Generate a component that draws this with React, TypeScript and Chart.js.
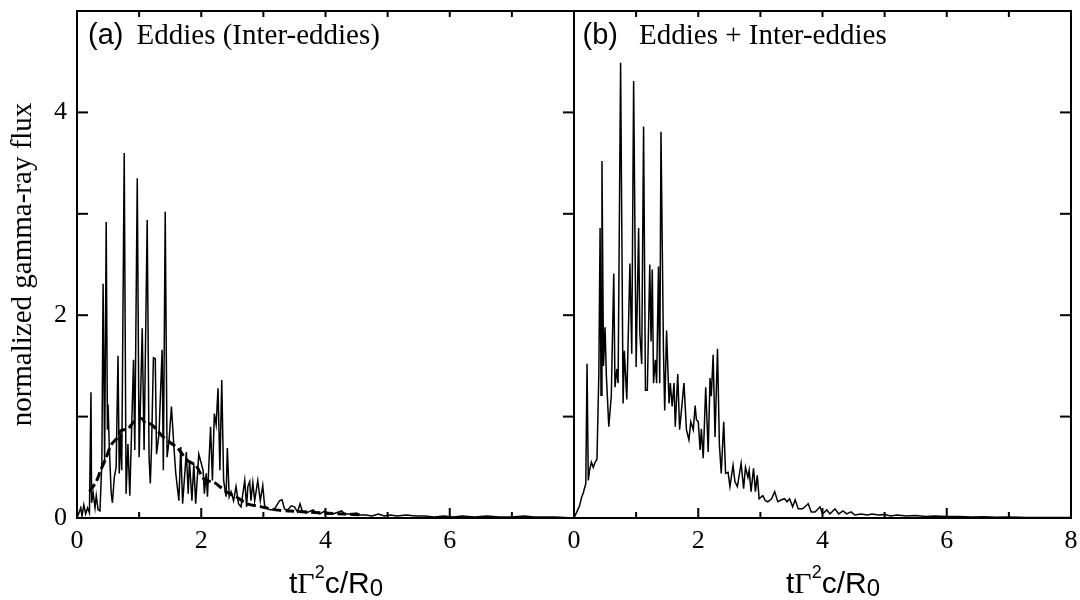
import React, { useEffect, useRef } from "react";
import { Chart, registerables } from "chart.js";

Chart.register(...registerables);

// ---------- data ----------
// (a) eddies – solid curve
const leftX = [
  0.0, 0.03, 0.06, 0.08, 0.11, 0.14, 0.17, 0.2, 0.225, 0.235, 0.26, 0.29, 0.31, 0.34, 0.37, 0.4,
  0.42, 0.445, 0.47, 0.49, 0.5, 0.52, 0.55, 0.57, 0.6, 0.63, 0.66, 0.68, 0.7, 0.72, 0.76, 0.79,
  0.82, 0.85, 0.91, 0.93, 0.97, 1.0, 1.05, 1.08, 1.13, 1.16, 1.18, 1.2, 1.23, 1.26, 1.28, 1.32,
  1.37, 1.39, 1.42, 1.45, 1.48, 1.52, 1.56, 1.59, 1.64, 1.67, 1.7, 1.76, 1.79, 1.81, 1.85, 1.88,
  1.91, 1.96, 2.03, 2.05, 2.08, 2.1, 2.15, 2.18, 2.21, 2.24, 2.27, 2.3, 2.33, 2.36, 2.4, 2.42,
  2.45, 2.48, 2.52, 2.56, 2.6, 2.64, 2.7, 2.73, 2.75, 2.78, 2.8, 2.83, 2.86, 2.91, 2.95, 2.99,
  3.02, 3.07, 3.12, 3.18, 3.26, 3.3, 3.34, 3.39, 3.45, 3.5, 3.55, 3.59, 3.63, 3.69, 3.8, 3.85,
  3.91, 3.99, 4.04, 4.12, 4.26, 4.31, 4.39, 4.5, 4.55, 4.65, 4.75, 4.85, 4.95, 5.05, 5.15, 5.3,
  5.45, 5.6, 5.75, 5.9, 6.05, 6.2, 6.4, 6.6, 6.8, 7.0, 7.2, 7.35, 7.5, 7.7, 8.0,
];
const leftY = [
  0.0, 0.05, 0.1, 0.02, 0.13, 0.04, 0.1, 0.05, 1.24, 0.15, 0.25, 0.1, 0.22, 0.08, 0.07, 0.55,
  2.31, 0.55, 2.92, 0.87, 1.12, 0.7, 0.25, 0.15, 0.4, 0.5, 1.6, 0.44, 0.83, 0.47, 3.6, 0.24,
  0.73, 0.22, 1.56, 0.67, 3.35, 0.6, 1.87, 0.67, 2.94, 0.6, 0.34, 0.7, 1.58, 1.57, 0.63, 0.83,
  1.66, 0.47, 3.02, 0.6, 0.75, 1.1, 0.7, 0.44, 0.17, 0.7, 0.14, 0.65, 0.24, 0.57, 0.17, 0.54,
  0.14, 0.63, 0.47, 0.24, 0.44, 0.21, 0.9, 0.37, 1.03, 0.92, 1.28, 0.47, 1.36, 0.37, 0.21, 0.69,
  0.21, 0.26, 0.17, 0.31, 0.14, 0.11, 0.37, 0.11, 0.31, 0.36, 0.17, 0.35, 0.17, 0.37, 0.17, 0.32,
  0.12, 0.09, 0.08, 0.09, 0.17, 0.18, 0.09, 0.08, 0.12, 0.11, 0.06, 0.14, 0.06, 0.05, 0.08, 0.05,
  0.04, 0.07, 0.04, 0.04, 0.07, 0.04, 0.04, 0.05, 0.03, 0.03, 0.02, 0.04, 0.02, 0.03, 0.02, 0.03,
  0.02, 0.02, 0.01, 0.02, 0.01, 0.02, 0.01, 0.02, 0.01, 0.01, 0.02, 0.01, 0.01, 0.01, 0.0,
];
// (a) inter-eddies – dashed curve
const dashX = [
  0.2, 0.31, 0.38, 0.46, 0.55, 0.66, 0.7, 0.82, 0.92, 1.05, 1.1, 1.17, 1.27, 1.37, 1.51, 1.62,
  1.77, 1.91, 2.05, 2.21, 2.4, 2.56, 2.74, 2.97, 3.2, 3.43, 3.7, 3.95, 4.3, 4.6,
];
const dashY = [
  0.26, 0.36, 0.47, 0.58, 0.72, 0.8, 0.86, 0.88, 0.95, 0.98, 0.93, 0.93, 0.88, 0.81, 0.74, 0.69,
  0.57, 0.52, 0.38, 0.35, 0.26, 0.21, 0.14, 0.11, 0.08, 0.07, 0.06, 0.05, 0.04, 0.03,
];
// (b) eddies + inter-eddies
const rightX = [
  0.0, 0.06, 0.09, 0.12, 0.15, 0.19, 0.21, 0.23, 0.25, 0.28, 0.31, 0.34, 0.37, 0.4, 0.42, 0.435,
  0.45, 0.475, 0.5, 0.52, 0.56, 0.6, 0.64, 0.66, 0.69, 0.71, 0.75, 0.79, 0.81, 0.85, 0.9, 0.93,
  0.96, 1.0, 1.04, 1.06, 1.09, 1.12, 1.15, 1.18, 1.22, 1.24, 1.26, 1.28, 1.31, 1.33, 1.36, 1.38,
  1.4, 1.44, 1.46, 1.49, 1.53, 1.55, 1.58, 1.61, 1.63, 1.67, 1.7, 1.74, 1.77, 1.81, 1.85, 1.88,
  1.92, 1.95, 1.97, 2.0, 2.03, 2.05, 2.08, 2.12, 2.16, 2.19, 2.21, 2.24, 2.27, 2.31, 2.34, 2.37,
  2.41, 2.44, 2.48, 2.51, 2.56, 2.59, 2.63, 2.69, 2.73, 2.76, 2.8, 2.82, 2.85, 2.89, 2.92, 2.95,
  2.98, 3.02, 3.04, 3.08, 3.12, 3.18, 3.23, 3.28, 3.34, 3.39, 3.43, 3.47, 3.52, 3.56, 3.61, 3.68,
  3.77, 3.82, 3.88, 3.96, 4.0, 4.07, 4.12, 4.2, 4.26, 4.33, 4.39, 4.46, 4.52, 4.62, 4.72, 4.8,
  4.9, 5.0, 5.1, 5.2, 5.35, 5.5, 5.65, 5.8, 6.0, 6.2, 6.4, 6.6, 6.8, 7.0, 7.3, 7.6, 8.0,
];
const rightY = [
  0.0, 0.08, 0.12, 0.2, 0.25, 0.34, 1.52, 0.37, 0.47, 0.55, 0.5, 0.55, 0.58, 1.43, 2.86, 1.21,
  3.52, 1.5, 1.88, 1.42, 0.9, 1.2, 2.41, 1.29, 1.47, 1.33, 4.49, 1.13, 1.65, 1.17, 2.51, 1.62,
  4.31, 1.49, 2.86, 1.82, 1.52, 3.86, 1.26, 1.26, 2.5, 1.74, 2.45, 1.33, 1.56, 1.33, 2.48, 1.33,
  3.81, 1.65, 1.06, 1.85, 1.13, 1.33, 1.1, 1.33, 0.9, 1.42, 0.87, 1.13, 1.33, 0.87, 0.77, 0.95,
  0.87, 1.11, 0.97, 0.95, 0.67, 0.88, 0.59, 1.29, 0.65, 1.38, 1.2, 1.61, 0.8, 1.67, 0.73, 0.44,
  0.95, 0.44, 0.45, 0.31, 0.52, 0.36, 0.31, 0.54, 0.29, 0.5, 0.4, 0.47, 0.26, 0.49, 0.26, 0.42,
  0.19, 0.21, 0.22, 0.17, 0.16, 0.19, 0.26, 0.16, 0.18, 0.19, 0.16, 0.19, 0.11, 0.18, 0.09, 0.09,
  0.14, 0.06, 0.06, 0.11, 0.04, 0.08, 0.04, 0.09, 0.04, 0.07, 0.04, 0.06, 0.03, 0.04, 0.03, 0.04,
  0.03, 0.035, 0.02, 0.03, 0.02, 0.025, 0.015, 0.02, 0.015, 0.015, 0.01, 0.012, 0.008, 0.01, 0.006, 0.005, 0.004,
];

const xMin = 0;
const xMax = 8;
const yMin = 0;
const yMax = 5;
const xLabelValuesLeft = [0, 2, 4, 6];
const xLabelValuesRight = [0, 2, 4, 6, 8];
const yLabelValues = [0, 2, 4];
const panelTags = ["(a)", "(b)"];
const panelTitles = ["Eddies (Inter-eddies)", "Eddies + Inter-eddies"];
const yTitle = "normalized gamma-ray flux";

const SERIF = "'Liberation Serif', 'Times New Roman', serif";
const SANS = "'Liberation Sans', Arial, sans-serif";

const toPoints = (xs: number[], ys: number[]) => xs.map((x, i) => ({ x, y: ys[i] }));

const framePlugin = {
  id: "frame",
  afterDraw(chart: any) {
    const { ctx, chartArea: a, scales } = chart;
    const x1 = scales.x1;
    const x2 = scales.x2;
    const y = scales.y;
    ctx.save();
    ctx.strokeStyle = "#000";
    ctx.lineWidth = 2;
    ctx.strokeRect(a.left, a.top, a.right - a.left, a.bottom - a.top);
    const line = (xa: number, ya: number, xb: number, yb: number) => {
      ctx.beginPath();
      ctx.moveTo(xa, ya);
      ctx.lineTo(xb, yb);
      ctx.stroke();
    };
    line(x2.left, a.top, x2.left, a.bottom);
    // inward ticks
    for (const s of [x1, x2]) {
      for (let v = xMin + 1; v < xMax; v++) {
        const px = s.getPixelForValue(v);
        line(px, a.bottom, px, a.bottom - (v % 2 === 0 ? 10 : 6));
        line(px, a.top, px, a.top + 6);
      }
    }
    for (let v = yMin + 1; v < yMax; v++) {
      const py = y.getPixelForValue(v);
      line(x1.left, py, x1.left + 11, py);
      line(x1.right, py, x1.right - 11, py);
      line(x2.right, py, x2.right - 11, py);
    }
    // panel labels
    ctx.fillStyle = "#000";
    ctx.textBaseline = "alphabetic";
    ctx.textAlign = "left";
    const tagOffsets = [11, 8.5];
    const titleOffsets = [59.5, 65];
    [x1, x2].forEach((s: any, i: number) => {
      const left = s.getPixelForValue(xMin);
      ctx.font = `29px ${SANS}`;
      ctx.fillText(panelTags[i], left + tagOffsets[i], 44);
      ctx.font = `29px ${SERIF}`;
      ctx.fillText(panelTitles[i], left + titleOffsets[i], 44);
    });
    // x axis titles: tΓ²c/R₀
    [x1, x2].forEach((s: any) => {
      let x = s.getPixelForValue(xMin) + 212;
      const base = 593;
      const parts = [
        { t: "t", f: `30px ${SANS}`, dy: 0 },
        { t: "\u0393", f: `30px ${SERIF}`, dy: 0 },
        { t: "2", f: `18px ${SANS}`, dy: -15 },
        { t: "c/R", f: `30px ${SANS}`, dy: 0 },
        { t: "0", f: `24px ${SANS}`, dy: 3 },
      ];
      for (const p of parts) {
        ctx.font = p.f;
        ctx.fillText(p.t, x, base + p.dy);
        x += ctx.measureText(p.t).width;
      }
    });
    ctx.restore();
  },
};

const fitX = (s: any) => {
  s.height = 82;
  s.paddingLeft = 0;
  s.paddingRight = 0;
};

export default function App() {
  const ref = useRef<HTMLCanvasElement | null>(null);
  useEffect(() => {
    if (!ref.current) return;
    const tickFont = { family: SERIF, size: 26 };
    const chart = new Chart(ref.current, {
      type: "line",
      data: {
        datasets: [
          {
            data: toPoints(leftX, leftY),
            xAxisID: "x1",
            yAxisID: "y",
            borderColor: "#000",
            borderWidth: 1.5,
            pointRadius: 0,
            tension: 0,
          },
          {
            data: toPoints(dashX, dashY),
            xAxisID: "x1",
            yAxisID: "y",
            borderColor: "#000",
            borderWidth: 3,
            borderDash: [9, 4],
            pointRadius: 0,
            tension: 0.3,
          },
          {
            data: toPoints(rightX, rightY),
            xAxisID: "x2",
            yAxisID: "y",
            borderColor: "#000",
            borderWidth: 1.5,
            pointRadius: 0,
            tension: 0,
          },
        ],
      },
      options: {
        animation: false,
        responsive: false,
        devicePixelRatio: 1,
        layout: { padding: { top: 11, left: 0, right: 0, bottom: 0 } },
        plugins: { legend: { display: false }, tooltip: { enabled: false } },
        scales: {
          x1: {
            type: "linear",
            position: "bottom",
            stack: "panels",
            stackWeight: 1,
            min: xMin,
            max: xMax,
            afterFit: fitX,
            grid: { display: false, drawTicks: false },
            border: { display: false },
            ticks: {
              stepSize: 1,
              autoSkip: false,
              maxRotation: 0,
              padding: 8,
              color: "#000",
              font: tickFont,
              callback: (v: any) => (xLabelValuesLeft.includes(Number(v)) ? String(v) : ""),
            },
          },
          x2: {
            type: "linear",
            position: "bottom",
            stack: "panels",
            stackWeight: 1,
            min: xMin,
            max: xMax,
            afterFit: fitX,
            grid: { display: false, drawTicks: false },
            border: { display: false },
            ticks: {
              stepSize: 1,
              autoSkip: false,
              maxRotation: 0,
              padding: 8,
              color: "#000",
              font: tickFont,
              callback: (v: any) => (xLabelValuesRight.includes(Number(v)) ? String(v) : ""),
            },
          },
          y: {
            type: "linear",
            position: "left",
            min: yMin,
            max: yMax,
            afterFit: (s: any) => {
              s.width = 77;
              s.paddingTop = 0;
              s.paddingBottom = 0;
            },
            grid: { display: false, drawTicks: false },
            border: { display: false },
            title: {
              display: true,
              text: yTitle,
              color: "#000",
              font: { family: SERIF, size: 29 },
              padding: { top: 6, bottom: 0 },
            },
            ticks: {
              stepSize: 1,
              autoSkip: false,
              padding: 10,
              color: "#000",
              font: tickFont,
              callback: (v: any) => (yLabelValues.includes(Number(v)) ? String(v) : ""),
            },
          },
          y2: {
            type: "linear",
            position: "right",
            min: yMin,
            max: yMax,
            afterFit: (s: any) => {
              s.width = 9;
              s.paddingTop = 0;
              s.paddingBottom = 0;
            },
            grid: { display: false, drawTicks: false },
            border: { display: false },
            ticks: { display: false },
          },
        },
      },
      plugins: [framePlugin],
    } as any);
    return () => chart.destroy();
  }, []);
  return (
    <div style={{ position: "fixed", left: 0, top: 0, width: 1080, height: 600, background: "#fff" }}>
      <canvas ref={ref} width={1080} height={600} />
    </div>
  );
}
